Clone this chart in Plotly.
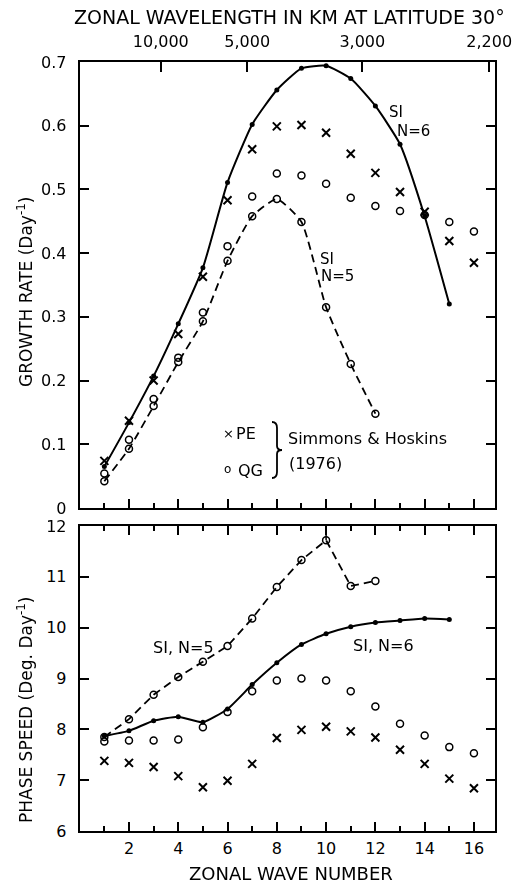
import plotly.graph_objects as go

# ---------------- data ----------------
wave_n = list(range(1, 17))

# Growth rate (day^-1)
gr_si6_n = list(range(1, 16))
gr_si6 = [0.065, 0.134, 0.207, 0.289, 0.377, 0.511, 0.602, 0.656, 0.690, 0.694,
          0.674, 0.631, 0.571, 0.458, 0.320]
gr_si5_n = list(range(1, 13))
gr_si5 = [0.042, 0.093, 0.160, 0.229, 0.293, 0.388, 0.458, 0.485, 0.449, 0.315,
          0.226, 0.148]
gr_pe = [0.074, 0.137, 0.200, 0.273, 0.363, 0.483, 0.563, 0.599, 0.601, 0.589,
         0.556, 0.526, 0.496, 0.465, 0.419, 0.385]
gr_qg = [0.054, 0.107, 0.171, 0.236, 0.307, 0.411, 0.489, 0.525, 0.522, 0.509,
         0.487, 0.474, 0.466, 0.460, 0.449, 0.434]

# Phase speed (deg day^-1)
ps_si6_n = list(range(1, 16))
ps_si6 = [7.87, 7.97, 8.17, 8.25, 8.14, 8.40, 8.88, 9.31, 9.67, 9.88,
          10.02, 10.10, 10.14, 10.18, 10.16]
ps_si5_n = list(range(1, 13))
ps_si5 = [7.85, 8.20, 8.68, 9.03, 9.33, 9.64, 10.18, 10.80, 11.33, 11.72,
          10.82, 10.92]
ps_pe = [7.38, 7.34, 7.26, 7.08, 6.86, 6.99, 7.32, 7.83, 7.99, 8.05,
         7.96, 7.84, 7.60, 7.32, 7.03, 6.84]
ps_qg = [7.76, 7.78, 7.78, 7.80, 8.04, 8.34, 8.75, 8.96, 9.00, 8.96,
         8.75, 8.45, 8.11, 7.88, 7.65, 7.53]

# top axis: zonal wavelength (km) and the wave-number positions of its ticks
wl_labels = ["10,000", "5,000", "3,000", "2,200"]
wl_tick_n = [3.29, 6.80, 11.47, 16.62]

x_major = [2, 4, 6, 8, 10, 12, 14, 16]
x_minor = [1, 3, 5, 7, 9, 11, 13, 15]

# ---------------- layout helpers ----------------
W, H = 516, 884
FONT = "DejaVu Sans"


def px(x):
    return x / W


def py(y):
    return 1 - y / H


X_DOM = [px(79.7), px(495)]
Y1_DOM = [py(508), py(62)]
Y2_DOM = [py(831), py(526)]
XR = [0, (495 - 79.7) / 24.64]

fig = go.Figure()

X_MARK = dict(symbol="x-thin", size=8, line=dict(color="black", width=2), color="black")
O_MARK = dict(symbol="circle-open", size=7, line=dict(color="black", width=1.5), color="black")
DOT_MARK = dict(symbol="circle", size=5, color="black")
DASH = "8px,5px"

# ---- top panel ----
fig.add_trace(go.Scatter(x=gr_si6_n, y=gr_si6, mode="lines+markers",
                         line=dict(color="black", width=2, shape="spline", smoothing=0.5),
                         marker=DOT_MARK, xaxis="x", yaxis="y"))
fig.add_trace(go.Scatter(x=gr_si5_n, y=gr_si5, mode="lines+markers",
                         line=dict(color="black", width=1.8, dash=DASH, shape="spline", smoothing=0.5),
                         marker=O_MARK, xaxis="x", yaxis="y"))
fig.add_trace(go.Scatter(x=wave_n, y=gr_pe, mode="markers", marker=X_MARK,
                         xaxis="x", yaxis="y"))
fig.add_trace(go.Scatter(x=wave_n, y=gr_qg, mode="markers", marker=O_MARK,
                         xaxis="x", yaxis="y"))
# invisible copy on the top (wavelength) axis so that axis is drawn
fig.add_trace(go.Scatter(x=wave_n, y=gr_qg, mode="markers", opacity=0,
                         hoverinfo="skip", xaxis="x3", yaxis="y"))

# ---- bottom panel ----
fig.add_trace(go.Scatter(x=ps_si6_n, y=ps_si6, mode="lines+markers",
                         line=dict(color="black", width=2, shape="spline", smoothing=0.5),
                         marker=DOT_MARK, xaxis="x2", yaxis="y2"))
fig.add_trace(go.Scatter(x=ps_si5_n, y=ps_si5, mode="lines+markers",
                         line=dict(color="black", width=1.8, dash=DASH),
                         marker=O_MARK, xaxis="x2", yaxis="y2"))
fig.add_trace(go.Scatter(x=wave_n, y=ps_pe, mode="markers", marker=X_MARK,
                         xaxis="x2", yaxis="y2"))
fig.add_trace(go.Scatter(x=wave_n, y=ps_qg, mode="markers", marker=O_MARK,
                         xaxis="x2", yaxis="y2"))
# drop line from the top frame to the SI N=5 peak
peak_i = ps_si5.index(max(ps_si5))
fig.add_trace(go.Scatter(x=[ps_si5_n[peak_i]] * 2, y=[12, ps_si5[peak_i]], mode="lines",
                         line=dict(color="black", width=1.5), xaxis="x2", yaxis="y2"))

TICKFONT = dict(family=FONT, size=16, color="black")

common_x = dict(range=XR, domain=X_DOM, showgrid=False, zeroline=False,
                showline=True, linecolor="black", linewidth=2,
                ticks="inside", ticklen=9, tickwidth=1.5, tickcolor="black",
                tickmode="array", tickvals=x_major,
                minor=dict(tickmode="array", tickvals=x_minor, ticks="inside",
                           ticklen=5, tickwidth=1.5, tickcolor="black", showgrid=False),
                tickfont=TICKFONT, automargin=False)

fig.update_layout(
    width=W, height=H, margin=dict(l=0, r=0, t=0, b=0, autoexpand=False),
    paper_bgcolor="white", plot_bgcolor="white", showlegend=False,
    font=dict(family=FONT, color="black"),
    xaxis=dict(common_x, anchor="y", showticklabels=False, mirror=True),
    xaxis3=dict(range=XR, domain=X_DOM, overlaying="x", side="top", anchor="y",
                showgrid=False, zeroline=False, showline=False, automargin=False,
                tickmode="array", tickvals=wl_tick_n, ticktext=wl_labels,
                ticks="inside", ticklen=10, tickwidth=1.5, tickcolor="black",
                tickfont=TICKFONT, ticklabelstandoff=11),
    yaxis=dict(range=[0, 0.7], domain=Y1_DOM, anchor="x", showgrid=False,
               zeroline=False, showline=True, linecolor="black", linewidth=2,
               mirror="ticks", ticks="inside", ticklen=9, tickwidth=1.5,
               tickcolor="black", tickmode="array", automargin=False,
               tickvals=[0, 0.1, 0.2, 0.3, 0.4, 0.5, 0.6, 0.7],
               ticktext=["0", "0.1", "0.2", "0.3", "0.4", "0.5", "0.6", "0.7"],
               tickfont=TICKFONT, ticklabelstandoff=8),
    xaxis2=dict(common_x, anchor="y2", showticklabels=True, mirror="ticks",
                ticklabelstandoff=2),
    yaxis2=dict(range=[6, 12], domain=Y2_DOM, anchor="x2", showgrid=False,
                zeroline=False, showline=True, linecolor="black", linewidth=2,
                mirror="ticks", ticks="inside", ticklen=9, tickwidth=1.5, automargin=False,
                tickcolor="black", dtick=1, tickfont=TICKFONT, ticklabelstandoff=8),
)


def label(text, x, y, size=15, xanchor="left", angle=0):
    fig.add_annotation(text=text, x=px(x), y=py(y), xref="paper", yref="paper",
                       xanchor=xanchor, yanchor="middle", showarrow=False,
                       textangle=angle, font=dict(family=FONT, size=size, color="black"))


# titles
label("ZONAL WAVELENGTH IN KM AT LATITUDE 30°", 289, 17, size=19, xanchor="center")
label("ZONAL WAVE NUMBER", 291, 873, size=18, xanchor="center")
label("GROWTH RATE (Day<sup>-1</sup>)", 25, 292, size=17, xanchor="center", angle=-90)
label("PHASE SPEED (Deg. Day<sup>-1</sup>)", 25, 710, size=17, xanchor="center", angle=-90)

# curve labels
label("SI", 387, 112, size=15)
label("N=6", 395, 131, size=15)
label("SI", 318, 259, size=15)
label("N=5", 319, 276, size=15)
label("SI, N=5", 151, 647, size=16)
label("SI, N=6", 351, 645, size=16)

# legend
label("×", 221, 433, size=13)
label("PE", 234, 433, size=16)
label("o", 222, 469, size=12)
label("QG", 236, 470, size=16)
label("Simmons &amp; Hoskins", 286, 438, size=16)
label("(1976)", 287, 463, size=16)

# brace
bx0, bx1, bx2 = px(272), px(277), px(282)
yt, ym, yb = py(422), py(450), py(478)
path = (f"M {bx0},{yt} Q {bx1},{yt} {bx1},{py(428)} L {bx1},{py(446)} "
        f"Q {bx1},{ym} {bx2},{ym} Q {bx1},{ym} {bx1},{py(454)} L {bx1},{py(472)} "
        f"Q {bx1},{yb} {bx0},{yb}")
fig.add_shape(type="path", path=path, xref="paper", yref="paper",
              line=dict(color="black", width=1.8))

POST = ("document.documentElement.style.margin='0';"
        "document.body.style.margin='0';document.body.style.padding='0';"
        "document.documentElement.style.overflow='hidden';"
        "document.body.style.overflow='hidden';")

fig.write_html("out.html", post_script=POST)
